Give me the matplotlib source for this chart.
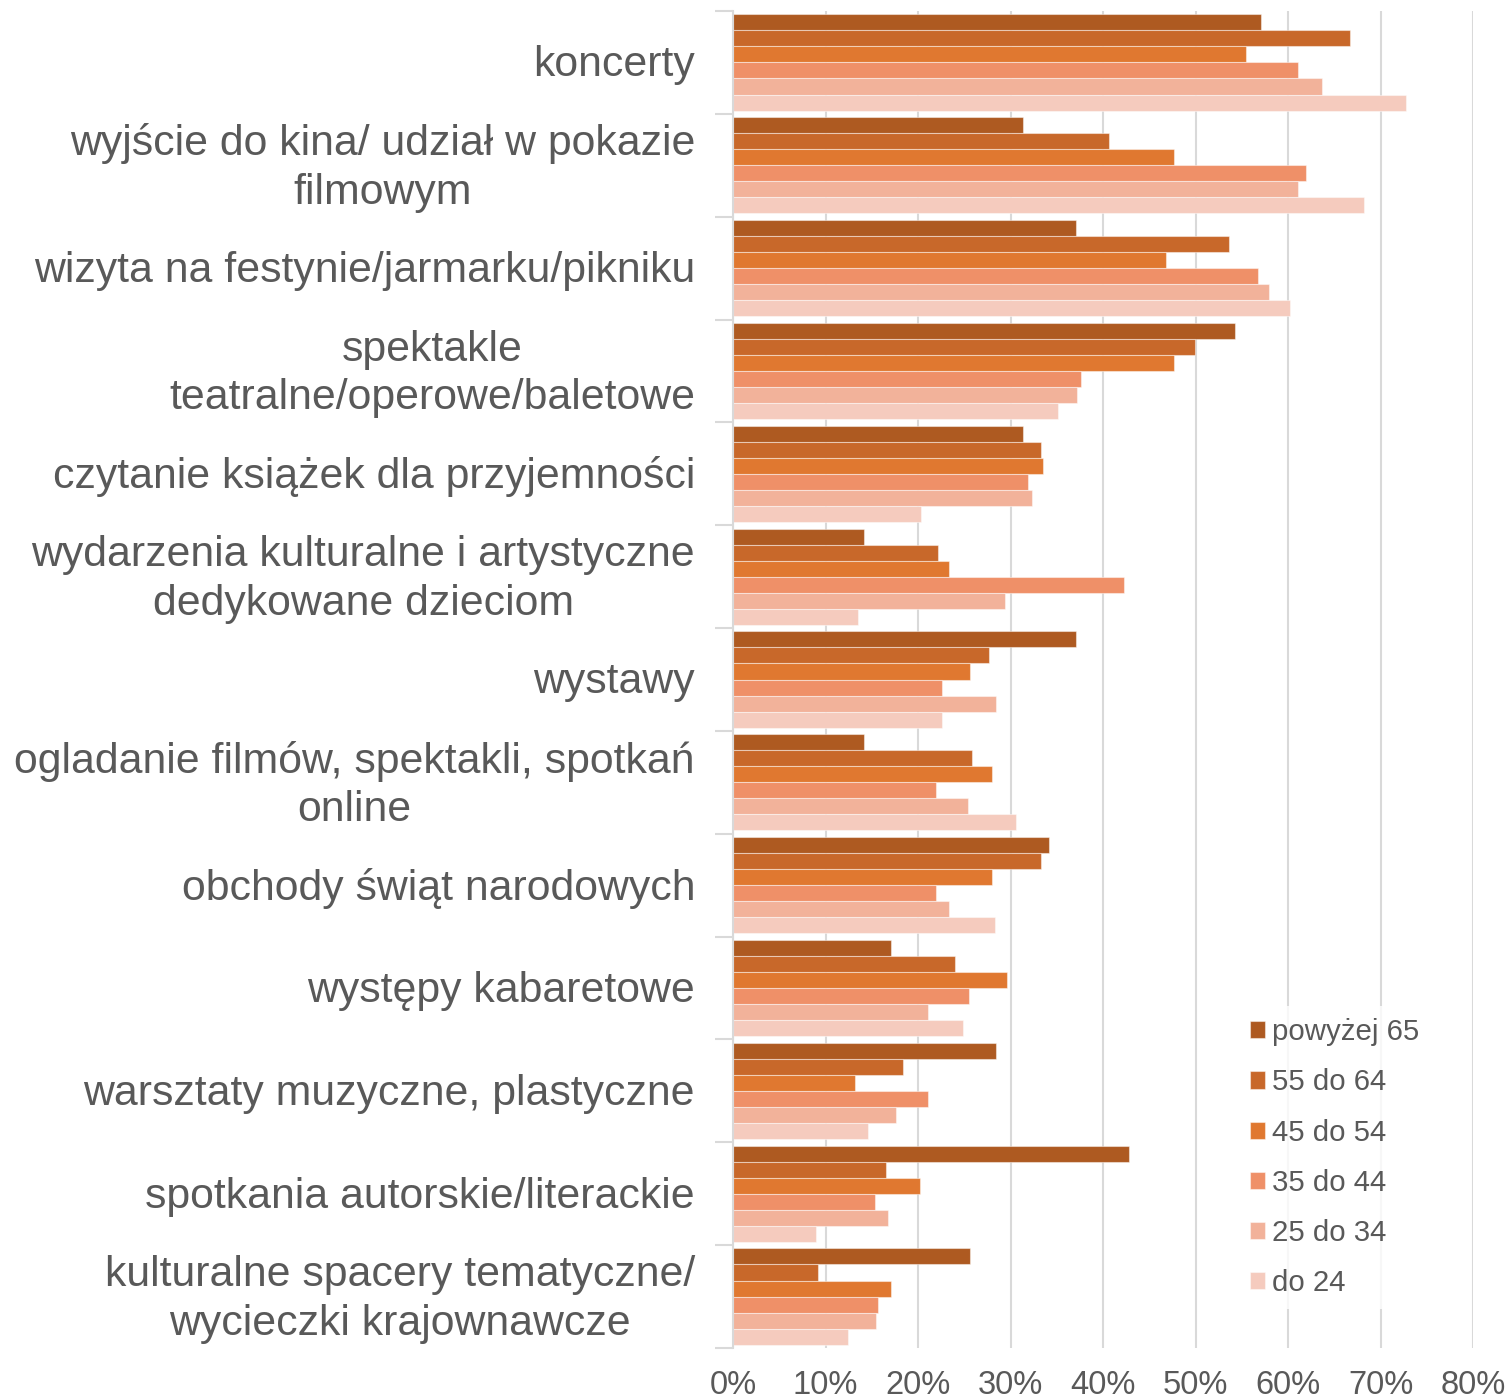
import matplotlib
matplotlib.use("Agg")
import matplotlib.pyplot as plt
import matplotlib.transforms as mtransforms
import numpy as np

plt.rcParams['font.family'] = ['Liberation Sans', 'DejaVu Sans']

categories = [
    "koncerty",
    "wyjście do kina/ udział w pokazie\nfilmowym",
    "wizyta na festynie/jarmarku/pikniku",
    "spektakle\nteatralne/operowe/baletowe",
    "czytanie książek dla przyjemności",
    "wydarzenia kulturalne i artystyczne\ndedykowane dzieciom",
    "wystawy",
    "ogladanie filmów, spektakli, spotkań\nonline",
    "obchody świąt narodowych",
    "występy kabaretowe",
    "warsztaty muzyczne, plastyczne",
    "spotkania autorskie/literackie",
    "kulturalne spacery tematyczne/\nwycieczki krajownawcze",
]

series_names = ["powyżej 65", "55 do 64", "45 do 54", "35 do 44", "25 do 34", "do 24"]

powyzej_65 = [57.1, 31.4, 37.1, 54.3, 31.4, 14.2, 37.1, 14.2, 34.2, 17.1, 28.4, 42.8, 25.6]
od_55_do_64 = [66.7, 40.6, 53.6, 49.9, 33.3, 22.2, 27.7, 25.8, 33.3, 24.0, 18.4, 16.5, 9.2]
od_45_do_54 = [55.5, 47.7, 46.8, 47.7, 33.5, 23.4, 25.6, 28.0, 28.0, 29.6, 13.2, 20.2, 17.1]
od_35_do_44 = [61.1, 61.9, 56.8, 37.6, 31.9, 42.3, 22.6, 21.9, 21.9, 25.5, 21.1, 15.4, 15.7]
od_25_do_34 = [63.7, 61.1, 57.9, 37.2, 32.3, 29.4, 28.4, 25.4, 23.4, 21.1, 17.6, 16.8, 15.5]
do_24 = [72.8, 68.2, 60.2, 35.1, 20.3, 13.5, 22.6, 30.6, 28.3, 24.9, 14.6, 9.0, 12.4]

series_values = [powyzej_65, od_55_do_64, od_45_do_54, od_35_do_44, od_25_do_34, do_24]
colors = ["#AE5A21", "#C8682A", "#E07830", "#EF9068", "#F2B29A", "#F5CBBE"]

xticks = [0, 10, 20, 30, 40, 50, 60, 70, 80]
xtick_labels = [f"{v}%" for v in xticks]

fig = plt.figure(figsize=(15.09, 14.0), dpi=100)
ax = fig.add_axes([733/1509, 1 - 1348/1400, 740/1509, 1337/1400])

n = len(categories)
y = np.arange(n)
h = 0.156
for j, (vals, col, name) in enumerate(zip(series_values, colors, series_names)):
    ax.barh(y + (j - 2.5) * h, vals, height=h, color=col, label=name,
            edgecolor=(1, 1, 1, 0.45), linewidth=0.8, zorder=3)

ax.set_xlim(0, 80)
ax.set_ylim(n - 0.5, -0.5)

ax.set_xticks(xticks)
ax.set_xticklabels(xtick_labels)
ax.tick_params(axis='x', length=0, pad=16, labelsize=23.5, labelcolor="#595959")
ax.grid(axis='x', color="#D9D9D9", linewidth=1.5, zorder=0)

# category boundaries as ticks
ax.set_yticks(np.arange(-0.5, n, 1.0))
ax.set_yticklabels([])
ax.tick_params(axis='y', which='major', length=13, width=1.5, color="#D9D9D9", direction='out')

# category labels
base = mtransforms.blended_transform_factory(ax.transAxes, ax.transData)
tr = base + mtransforms.ScaledTranslation(-38/100, -3/100, fig.dpi_scale_trans)
for yi, lab in zip(y, categories):
    ax.text(0, yi, lab, transform=tr, ha='right', va='center', multialignment='center',
            fontsize=30.8, color="#595959", linespacing=1.28)

for s in ['top', 'right', 'bottom']:
    ax.spines[s].set_visible(False)
ax.spines['left'].set_color("#D9D9D9")
ax.spines['left'].set_linewidth(1.5)
ax.spines['left'].set_zorder(4)

leg = ax.legend(loc='upper left', bbox_to_anchor=(0.663, 0.2665), frameon=True,
                fontsize=21.2, handlelength=0.52, handleheight=0.52, handletextpad=0.22,
                labelspacing=0.755, borderpad=0.4, fancybox=False)
leg.get_frame().set_facecolor('white')
leg.get_frame().set_edgecolor('none')
leg.set_zorder(5)
for t in leg.get_texts():
    t.set_color("#595959")

fig.savefig("out.png", dpi=100)
